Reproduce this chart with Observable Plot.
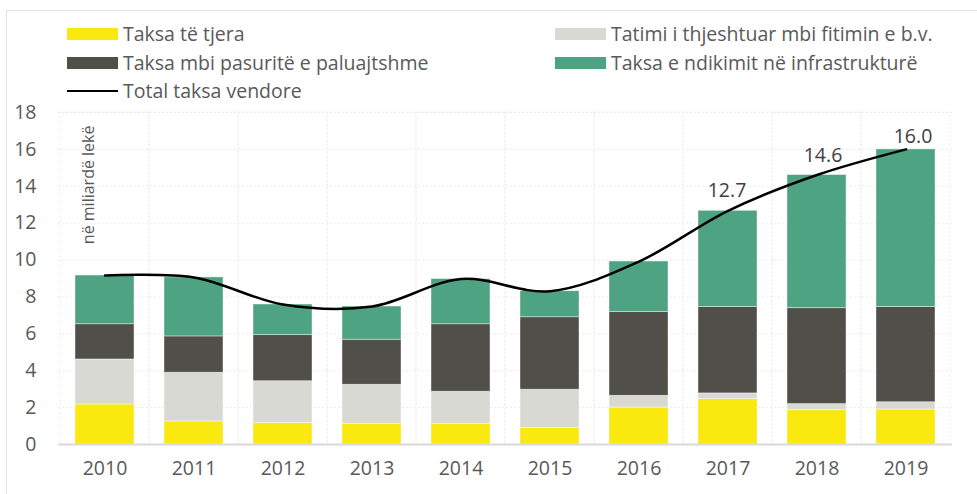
<!DOCTYPE html>
<html>
<head>
<meta charset="utf-8">
<script src="https://cdn.jsdelivr.net/npm/d3@7"></script>
<script src="https://cdn.jsdelivr.net/npm/@observablehq/plot@0.6"></script>
<style>
  html, body { margin: 0; padding: 0; background: #fff; width: 977px; height: 494px; overflow: hidden; }
  body { font-family: "Open Sans", Lato, sans-serif; position: relative; }
  #frame { position: absolute; left: 6px; top: 10px; width: 1000px; height: 500px;
           border-left: 1.5px solid #e4e4e4; border-top: 1.5px solid #e4e4e4; }
  #legend { position: absolute; left: 0; top: 0; width: 977px; height: 88px; }
  .item { position: absolute; display: flex; align-items: center; font-size: 19.5px; line-height: 24px; color: #595959; white-space: nowrap; }
  .sw { width: 51px; height: 12px; margin-right: 5px; }
  .ln { width: 51px; height: 2.5px; background: #000; margin-right: 5px; }
  #chart { position: absolute; left: 8px; top: 88px; }
</style>
</head>
<body>
<div id="frame"></div>
<div id="legend"></div>
<div id="chart"></div>
<script>
const years = ["2010","2011","2012","2013","2014","2015","2016","2017","2018","2019"];
const seriesNames = ["Taksa të tjera", "Tatimi i thjeshtuar mbi fitimin e b.v.", "Taksa mbi pasuritë e paluajtshme", "Taksa e ndikimit në infrastrukturë"];
const lineName = "Total taksa vendore";
const seriesColors = ["#f9e90f", "#d9d9d4", "#504f4a", "#4ea482"];
const takseTjera = [2.17, 1.25, 1.16, 1.12, 1.12, 0.90, 2.00, 2.46, 1.86, 1.90];
const tatimi     = [2.44, 2.64, 2.27, 2.12, 1.74, 2.07, 0.64, 0.31, 0.33, 0.39];
const pasuri     = [1.91, 1.97, 2.50, 2.44, 3.66, 3.93, 4.54, 4.69, 5.20, 5.17];
const infra      = [2.64, 3.20, 1.66, 1.80, 2.45, 1.41, 2.74, 5.21, 7.22, 8.54];
const totals     = [9.16, 9.06, 7.59, 7.48, 8.97, 8.31, 9.92, 12.67, 14.61, 16.0];
const totalLabels = ["", "", "", "", "", "", "", "12.7", "14.6", "16.0"];
const yTicks = [0, 2, 4, 6, 8, 10, 12, 14, 16, 18];
const yLabel = "në miliardë lekë";

const seriesValues = [takseTjera, tatimi, pasuri, infra];
const stacked = [];
seriesNames.forEach((s, si) => years.forEach((y, i) => stacked.push({year: y, series: s, value: seriesValues[si][i]})));
const lineData = years.map((y, i) => ({year: y, total: totals[i], label: totalLabels[i]}));

// legend (HTML, above the SVG)
const legend = document.getElementById("legend");
const legendPos = [[67, 34], [555, 34], [67, 63], [555, 63]];
seriesNames.forEach((s, i) => {
  const d = document.createElement("div");
  d.className = "item";
  d.style.left = legendPos[i][0] + "px";
  d.style.top = (legendPos[i][1] - 12) + "px";
  d.innerHTML = `<span class="sw" style="background:${seriesColors[i]}"></span><span>${s}</span>`;
  legend.appendChild(d);
});
{
  const d = document.createElement("div");
  d.className = "item";
  d.style.left = "67px";
  d.style.top = (91 - 12) + "px";
  d.innerHTML = `<span class="ln"></span><span>${lineName}</span>`;
  legend.appendChild(d);
}

const labelText = (yr, dx, dy) => Plot.text(lineData.filter(d => d.year === yr), {
  x: "year", y: "total", text: "label", dx, dy, fill: "#404040", fontSize: 19.5});

const chart = Plot.plot({
  width: 969,
  height: 406,
  marginLeft: 50,
  marginRight: 25,
  marginTop: 24,
  marginBottom: 50,
  style: {fontFamily: "'Open Sans', Lato, sans-serif", fontSize: "19.5px", color: "#595959", background: "transparent"},
  x: {domain: years, paddingInner: 0.335, paddingOuter: 0.1675, label: null, tickSize: 0, tickPadding: 17},
  y: {domain: [0, 18], ticks: yTicks, label: null, tickSize: 0, tickPadding: 22},
  color: {domain: seriesNames, range: seriesColors},
  marks: [
    Plot.ruleY(yTicks.filter(t => t > 0), {stroke: "#ebebeb", strokeDasharray: "2,2"}),
    Plot.barY(years, {x: d => d, y: 18, fill: "none", stroke: "#ededed", strokeDasharray: "2,2",
      insetLeft: -15, insetRight: -15}),
    Plot.barY(stacked, {x: "year", y: "value", fill: "series", stroke: "#ffffff", strokeOpacity: 0.5, strokeWidth: 0.8}),
    Plot.ruleY([0], {stroke: "#d9d9d9", strokeWidth: 2}),
    Plot.line(lineData, {x: "year", y: "total", stroke: "#000", strokeWidth: 2.5, curve: "catmull-rom"}),
    labelText("2017", -1, -20),
    labelText("2018", 6, -19),
    labelText("2019", 7, -13),
    Plot.text([yLabel], {frameAnchor: "top-left", rotate: -90, textAnchor: "end", dx: 24, dy: 13,
      fill: "#595959", fontSize: 16})
  ]
});
document.getElementById("chart").appendChild(chart);
</script>
</body>
</html>
